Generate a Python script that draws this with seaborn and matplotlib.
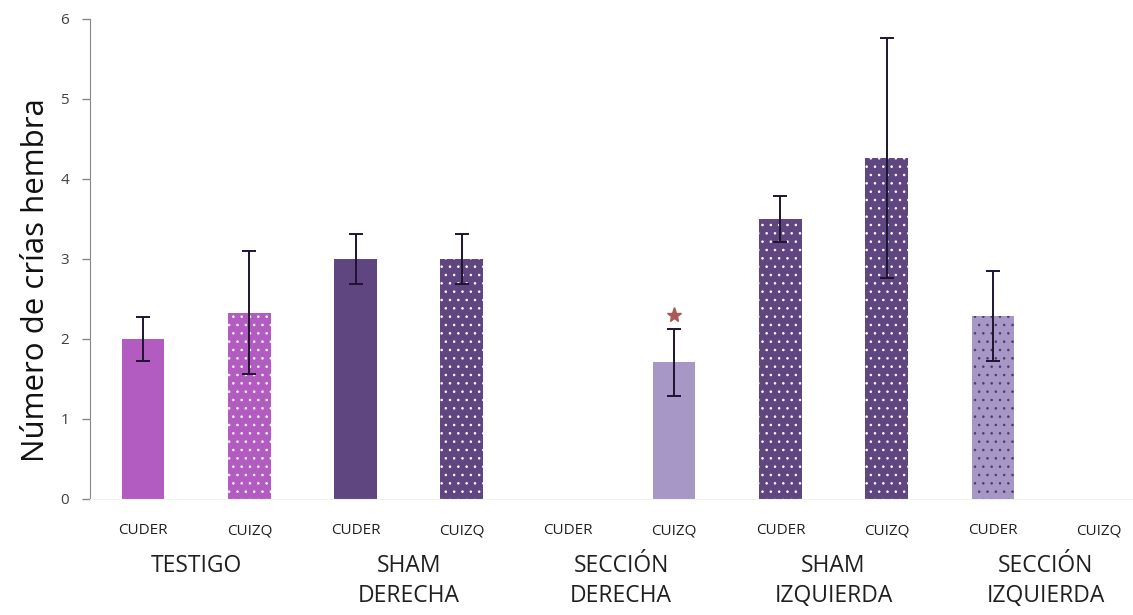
import numpy as np
import pandas as pd
import matplotlib
matplotlib.use("Agg")
import matplotlib.pyplot as plt
import seaborn as sns

# ==========================================
# DATA
# ==========================================

groups = ["TESTIGO", "SHAM\nDERECHA", "SECCIÓN\nDERECHA", "SHAM\nIZQUIERDA", "SECCIÓN\nIZQUIERDA"]
sides = ["CUDER", "CUIZQ"]

# one value per (group, side), NaN = no bar
means = [2.0, 2.33, 3.0, 3.0, np.nan, 1.71, 3.5, 4.26, 2.29, np.nan]
errors = [0.27, 0.77, 0.31, 0.31, np.nan, 0.42, 0.29, 1.5, 0.56, np.nan]
star_bar = 5
star_y = 2.3

bar_colors = ["#b25cc2", "#b25cc2", "#5f4680", "#5f4680", "#a797c7",
              "#a797c7", "#5f4680", "#5f4680", "#a797c7", "#a797c7"]
dotted = [False, True, False, True, False, False, True, True, True, False]
dot_colors = ["white", "white", "white", "white", "white",
              "white", "white", "white", "#4a3a70", "white"]

labels = [g.replace("\n", " ") + " " + s for g in groups for s in sides]
df = pd.DataFrame({"bar": labels, "value": means})

# ==========================================
# PLOT
# ==========================================

sns.set_style("white")
plt.rcParams["font.family"] = ["Open Sans", "DejaVu Sans"]
plt.rcParams["hatch.linewidth"] = 0.6

fig = plt.figure(figsize=(11.33, 6.15), dpi=100)
ax = fig.add_axes([90 / 1133, 116 / 615, 1043 / 1133, 480 / 615])

sns.barplot(data=df.dropna(), x="bar", y="value", hue="bar", order=labels,
            palette=dict(zip(labels, bar_colors)), width=0.4, legend=False, ax=ax,
            saturation=1)

for p in ax.patches:
    i = int(round(p.get_x() + p.get_width() / 2))
    p.set_linewidth(0)
    if dotted[i]:
        p.set_hatch("..")
        p.set_edgecolor(dot_colors[i])

x = np.arange(len(labels))
ax.errorbar(x, means, yerr=errors, fmt="none", ecolor="#1e1430",
            elinewidth=1.4, capsize=4.7, capthick=1.4)
ax.plot(star_bar, star_y, marker="*", color="#a85a5a", markersize=11, linestyle="none")

ax.set_xlim(-0.5, 9.32)
ax.set_ylim(0, 6)
ax.set_yticks(range(7))
ax.tick_params(axis="y", left=True, length=6, width=1, color="#888888",
               labelsize=11, labelcolor="#404040", pad=9)
ax.set_xticks(x)
ax.set_xticklabels([s for g in groups for s in sides], fontsize=11, color="#202020")
ax.tick_params(axis="x", bottom=False, pad=14)

sns.despine(ax=ax, top=True, right=True)
ax.spines["left"].set_color("#888888")
ax.spines["bottom"].set_color("#f2f2f2")

ax.set_xlabel("")
ax.set_ylabel("Número de crías hembra", fontsize=22.5, color="#111111")
ax.yaxis.set_label_coords(-0.037, 0.455)

for k, g in enumerate(groups):
    ax.text(2 * k + 0.5, -0.115, g, transform=ax.get_xaxis_transform(),
            ha="center", va="top", fontsize=16.5, linespacing=1.3, color="#202020")

fig.savefig("out.png", dpi=100)
